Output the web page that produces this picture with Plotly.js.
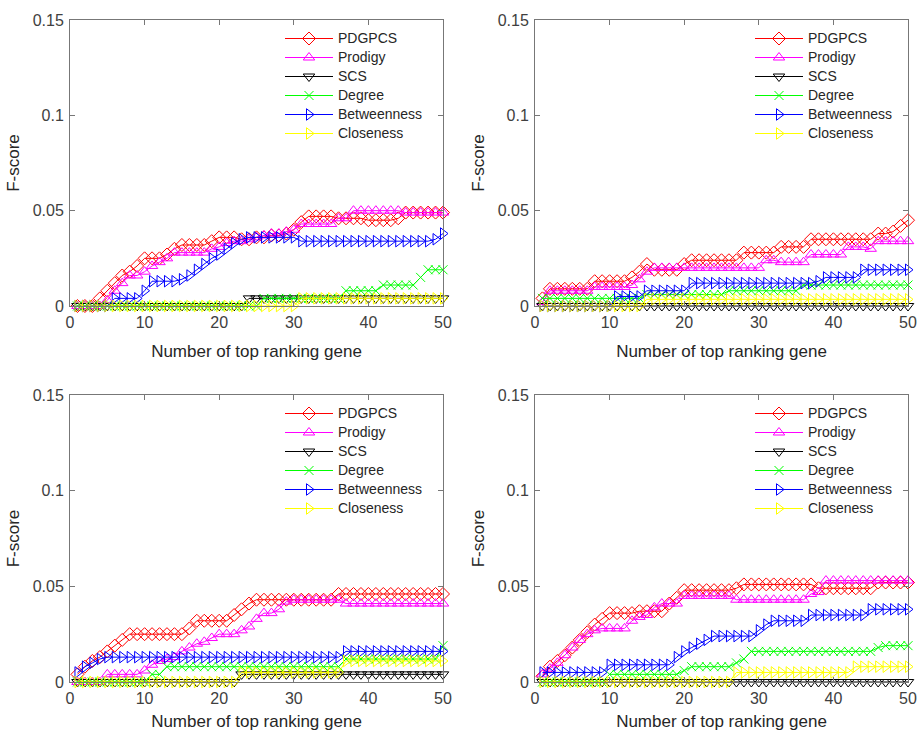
<!DOCTYPE html>
<html>
<head>
<meta charset="utf-8">
<script src="https://cdn.plot.ly/plotly-3.0.1.min.js"></script>
<style>
  html, body { margin: 0; padding: 0; background: #ffffff; }
  #chart { width: 919px; height: 731px; }
</style>
</head>
<body>
<div id="chart"></div>
<script>
// Number of top ranking genes considered (x axis)
const topN = [1,2,3,4,5,6,7,8,9,10,11,12,13,14,15,16,17,18,19,20,
              21,22,23,24,25,26,27,28,29,30,31,32,33,34,35,36,37,38,39,40,
              41,42,43,44,45,46,47,48,49,50];

const methodNames = ['PDGPCS', 'Prodigy', 'SCS', 'Degree', 'Betweenness', 'Closeness'];
const xTickVals = [0, 10, 20, 30, 40, 50];
const yTickVals = [0, 0.05, 0.1, 0.15];
const yTickText = ['0', '0.05', '0.1', '0.15'];

// ---- Panel 1 (top left) ----
const p1_PDGPCS = [0,0,0,0.004,0.008,0.012,0.016,0.018,0.021,0.025,
                   0.025,0.025,0.027,0.030,0.032,0.032,0.032,0.032,0.034,0.036,
                   0.036,0.036,0.035,0.035,0.036,0.036,0.037,0.037,0.038,0.040,
                   0.044,0.047,0.047,0.047,0.047,0.046,0.046,0.046,0.046,0.045,
                   0.045,0.045,0.045,0.046,0.049,0.049,0.049,0.049,0.049,0.049];
const p1_Prodigy = [0,0,0,0,0.003,0.008,0.012,0.016,0.016,0.018,
                    0.021,0.023,0.025,0.028,0.028,0.028,0.028,0.028,0.030,0.031,
                    0.033,0.034,0.034,0.035,0.036,0.037,0.038,0.038,0.039,0.040,
                    0.043,0.043,0.043,0.043,0.043,0.046,0.046,0.050,0.050,0.050,
                    0.050,0.050,0.050,0.050,0.049,0.049,0.049,0.049,0.049,0.049];
const p1_SCS = [0,0,0,0,0,0,0,0,0,0,
                0,0,0,0,0,0,0,0,0,0,
                0,0,0,0.004,0.004,0.004,0.004,0.004,0.004,0.004,
                0.004,0.004,0.004,0.004,0.004,0.004,0.004,0.004,0.004,0.004,
                0.004,0.004,0.004,0.004,0.004,0.004,0.004,0.004,0.004,0.004];
const p1_Degree = [0,0,0,0,0,0,0,0,0,0,
                   0,0,0,0,0,0,0,0,0,0,
                   0,0,0,0,0,0.004,0.004,0.004,0.004,0.004,
                   0.004,0.004,0.004,0.004,0.004,0.004,0.008,0.008,0.008,0.008,
                   0.008,0.011,0.011,0.011,0.011,0.011,0.015,0.019,0.019,0.019];
const p1_Betweenness = [0,0,0,0,0,0.004,0.004,0.004,0.004,0.008,
                        0.013,0.013,0.013,0.013,0.014,0.016,0.019,0.022,0.025,0.027,
                        0.030,0.033,0.035,0.036,0.036,0.036,0.036,0.036,0.036,0.036,
                        0.034,0.034,0.034,0.034,0.034,0.034,0.034,0.034,0.034,0.034,
                        0.034,0.034,0.034,0.034,0.034,0.034,0.034,0.034,0.035,0.038];
const p1_Closeness = [0,0,0,0,0,0,0,0,0,0,
                      0,0,0,0,0,0,0,0,0,0,
                      0,0,0,0,0,0,0,0,0,0,
                      0.004,0.004,0.004,0.004,0.004,0.004,0.004,0.004,0.004,0.004,
                      0.004,0.004,0.004,0.004,0.004,0.004,0.004,0.004,0.004,0.004];

// ---- Panel 2 (top right) ----
const p2_PDGPCS = [0.004,0.009,0.009,0.009,0.009,0.009,0.009,0.013,0.013,0.013,
                   0.013,0.013,0.015,0.018,0.022,0.019,0.019,0.019,0.019,0.022,
                   0.024,0.024,0.024,0.024,0.024,0.024,0.024,0.028,0.028,0.028,
                   0.028,0.028,0.031,0.031,0.031,0.031,0.035,0.035,0.035,0.035,
                   0.035,0.035,0.035,0.035,0.035,0.038,0.038,0.039,0.042,0.045];
const p2_Prodigy = [0.002,0.008,0.008,0.008,0.008,0.008,0.008,0.010,0.010,0.010,
                    0.010,0.010,0.011,0.014,0.018,0.020,0.020,0.020,0.020,0.020,
                    0.020,0.020,0.020,0.020,0.020,0.020,0.020,0.020,0.020,0.020,
                    0.024,0.024,0.023,0.023,0.023,0.023,0.027,0.027,0.027,0.027,
                    0.027,0.031,0.031,0.031,0.030,0.034,0.034,0.034,0.034,0.034];
const p2_SCS = [0,0,0,0,0,0,0,0,0,0,
                0,0,0,0,0,0,0,0,0,0,
                0,0,0,0,0,0,0,0,0,0,
                0,0,0,0,0,0,0,0,0,0,
                0,0,0,0,0,0,0,0,0,0];
const p2_Degree = [0.004,0.004,0.004,0.004,0.004,0.004,0.004,0.004,0.004,0.004,
                   0.004,0.004,0.004,0.004,0.006,0.006,0.006,0.006,0.006,0.006,
                   0.006,0.006,0.006,0.006,0.006,0.008,0.008,0.008,0.008,0.008,
                   0.008,0.008,0.008,0.008,0.008,0.011,0.011,0.011,0.011,0.011,
                   0.011,0.011,0.011,0.011,0.011,0.011,0.011,0.011,0.011,0.011];
const p2_Betweenness = [0,0,0,0,0,0,0,0,0,0,
                        0.005,0.005,0.005,0.005,0.008,0.008,0.008,0.008,0.008,0.008,
                        0.012,0.012,0.012,0.012,0.012,0.012,0.012,0.012,0.012,0.012,
                        0.012,0.012,0.012,0.012,0.012,0.012,0.012,0.013,0.015,0.015,
                        0.015,0.015,0.015,0.019,0.019,0.019,0.019,0.019,0.019,0.019];
const p2_Closeness = [0,0,0,0,0,0,0,0,0,0,
                      0,0,0,0,0.0035,0.0035,0.0035,0.0035,0.0035,0.0035,
                      0.0035,0.0035,0.0035,0.0035,0.0035,0.0035,0.0035,0.0035,0.0035,0.0035,
                      0.0035,0.0035,0.0035,0.0035,0.0035,0.0035,0.0035,0.0035,0.0035,0.0035,
                      0.0035,0.0035,0.0035,0.0035,0.0035,0.0035,0.0035,0.0035,0.0035,0.0035];

// ---- Panel 3 (bottom left) ----
const p3_PDGPCS = [0.004,0.008,0.011,0.013,0.016,0.019,0.022,0.025,0.025,0.025,
                   0.025,0.025,0.025,0.025,0.025,0.028,0.032,0.032,0.032,0.032,
                   0.032,0.035,0.038,0.041,0.043,0.043,0.043,0.043,0.043,0.043,
                   0.043,0.043,0.043,0.043,0.043,0.046,0.046,0.046,0.046,0.046,
                   0.046,0.046,0.046,0.046,0.046,0.046,0.046,0.046,0.046,0.046];
const p3_Prodigy = [0,0,0,0,0.004,0.004,0.004,0.004,0.004,0.006,
                    0.009,0.011,0.012,0.013,0.016,0.018,0.020,0.021,0.023,0.025,
                    0.025,0.025,0.027,0.029,0.033,0.036,0.036,0.038,0.042,0.043,
                    0.043,0.043,0.043,0.043,0.043,0.043,0.041,0.041,0.041,0.041,
                    0.041,0.041,0.041,0.041,0.041,0.041,0.041,0.041,0.041,0.041];
const p3_SCS = [0,0,0,0,0,0,0,0,0,0,
                0,0,0,0,0,0,0,0,0,0,
                0,0,0.004,0.004,0.004,0.004,0.004,0.004,0.004,0.004,
                0.004,0.004,0.004,0.004,0.004,0.004,0.004,0.004,0.004,0.004,
                0.004,0.004,0.004,0.004,0.004,0.004,0.004,0.004,0.004,0.004];
const p3_Degree = [0,0,0,0,0,0,0,0,0,0,
                   0.004,0.004,0.008,0.008,0.008,0.008,0.008,0.008,0.008,0.008,
                   0.008,0.008,0.008,0.008,0.008,0.008,0.008,0.008,0.008,0.008,
                   0.008,0.008,0.008,0.008,0.008,0.008,0.012,0.012,0.012,0.012,
                   0.012,0.012,0.012,0.012,0.012,0.012,0.012,0.012,0.012,0.019];
const p3_Betweenness = [0.005,0.008,0.010,0.012,0.013,0.013,0.013,0.013,0.013,0.013,
                        0.013,0.013,0.013,0.013,0.013,0.013,0.013,0.013,0.013,0.013,
                        0.013,0.013,0.013,0.013,0.013,0.013,0.013,0.013,0.013,0.013,
                        0.013,0.013,0.013,0.013,0.013,0.013,0.016,0.016,0.016,0.016,
                        0.016,0.016,0.016,0.016,0.016,0.016,0.016,0.016,0.016,0.016];
const p3_Closeness = [0,0,0,0,0,0,0,0,0,0,
                      0,0,0,0,0,0,0,0,0,0,
                      0,0,0.005,0.005,0.005,0.005,0.005,0.005,0.005,0.005,
                      0.005,0.005,0.005,0.005,0.005,0.005,0.011,0.011,0.011,0.011,
                      0.011,0.011,0.011,0.011,0.011,0.011,0.011,0.011,0.011,0.011];

// ---- Panel 4 (bottom right) ----
const p4_PDGPCS = [0.003,0.008,0.011,0.014,0.018,0.022,0.026,0.030,0.033,0.036,
                   0.036,0.036,0.036,0.037,0.037,0.037,0.037,0.041,0.044,0.048,
                   0.048,0.048,0.048,0.048,0.048,0.048,0.049,0.051,0.051,0.051,
                   0.051,0.051,0.051,0.051,0.051,0.051,0.051,0.049,0.049,0.049,
                   0.049,0.049,0.049,0.049,0.049,0.052,0.052,0.052,0.052,0.052];
const p4_Prodigy = [0.004,0.007,0.010,0.014,0.018,0.022,0.025,0.027,0.028,0.028,
                    0.028,0.028,0.032,0.034,0.035,0.039,0.041,0.041,0.041,0.045,
                    0.045,0.045,0.045,0.045,0.045,0.045,0.043,0.043,0.043,0.043,
                    0.043,0.043,0.043,0.043,0.043,0.043,0.046,0.047,0.053,0.053,
                    0.053,0.053,0.053,0.053,0.053,0.053,0.053,0.053,0.053,0.053];
const p4_SCS = [0,0,0,0,0,0,0,0,0,0,
                0,0,0,0,0,0,0,0,0,0,
                0,0,0,0,0,0,0,0,0,0,
                0,0,0,0,0,0,0,0,0,0,
                0,0,0,0,0,0,0,0,0,0];
const p4_Degree = [0,0,0,0,0,0,0,0,0,0.004,
                   0.004,0.004,0.004,0.004,0.004,0.004,0.004,0.004,0.004,0.006,
                   0.008,0.008,0.008,0.008,0.008,0.008,0.010,0.012,0.016,0.016,
                   0.016,0.016,0.016,0.016,0.016,0.016,0.016,0.016,0.016,0.016,
                   0.016,0.016,0.016,0.016,0.016,0.018,0.019,0.019,0.019,0.019];
const p4_Betweenness = [0.005,0.005,0.005,0.005,0.005,0.005,0.005,0.005,0.005,0.009,
                        0.009,0.009,0.009,0.009,0.009,0.009,0.009,0.009,0.013,0.016,
                        0.018,0.020,0.022,0.024,0.024,0.024,0.024,0.024,0.024,0.027,
                        0.030,0.032,0.032,0.032,0.032,0.032,0.035,0.035,0.035,0.035,
                        0.035,0.035,0.035,0.035,0.038,0.038,0.038,0.038,0.038,0.038];
const p4_Closeness = [0,0,0,0,0,0,0,0,0,0,
                      0,0,0,0,0,0,0,0,0,0,
                      0,0,0,0,0,0,0.005,0.005,0.005,0.005,
                      0.005,0.005,0.005,0.005,0.005,0.005,0.005,0.005,0.005,0.005,
                      0.005,0.005,0.008,0.008,0.008,0.008,0.008,0.008,0.008,0.008];

const panels = [
  [p1_PDGPCS, p1_Prodigy, p1_SCS, p1_Degree, p1_Betweenness, p1_Closeness],
  [p2_PDGPCS, p2_Prodigy, p2_SCS, p2_Degree, p2_Betweenness, p2_Closeness],
  [p3_PDGPCS, p3_Prodigy, p3_SCS, p3_Degree, p3_Betweenness, p3_Closeness],
  [p4_PDGPCS, p4_Prodigy, p4_SCS, p4_Degree, p4_Betweenness, p4_Closeness]
];

// Line/marker style for each method
const styles = [
  {color: '#ff0000', symbol: 'diamond-open', size: 10},
  {color: '#ff00ff', symbol: 'triangle-up-open', size: 10},
  {color: '#000000', symbol: 'triangle-down-open', size: 10},
  {color: '#00ff00', symbol: 'x-thin-open', size: 9},
  {color: '#0000ff', symbol: 'triangle-right-open', size: 10},
  {color: '#ffff00', symbol: 'triangle-right-open', size: 10}
];

const W = 919, H = 731;
// plot areas in pixels: [left, right, top, bottom]
const boxes = [
  [70, 443, 20, 306],
  [535, 908, 20, 306],
  [70, 443, 395, 682],
  [535, 908, 395, 682]
];
// left edge of each legend relative to its plot area
const legendOffsets = [210, 215, 210, 215];

const font = 'Liberation Sans, Arial, sans-serif';
const traces = [];
const layout = {
  width: W, height: H,
  margin: {l: 0, r: 0, t: 0, b: 0},
  paper_bgcolor: '#ffffff',
  plot_bgcolor: '#ffffff',
  font: {family: font, color: '#333333', size: 15},
  showlegend: true
};

panels.forEach((series, p) => {
  const n = p + 1;
  const xa = n === 1 ? 'x' : 'x' + n;
  const ya = n === 1 ? 'y' : 'y' + n;
  const lg = n === 1 ? 'legend' : 'legend' + n;
  const [l, r, t, b] = boxes[p];

  series.forEach((vals, k) => {
    const s = styles[k];
    traces.push({
      type: 'scatter',
      mode: 'lines+markers',
      name: '<span style="font-size:14px">' + methodNames[k] + '</span>',
      x: topN,
      y: vals,
      xaxis: xa,
      yaxis: ya,
      legend: lg,
      cliponaxis: false,
      line: {color: s.color, width: 1},
      marker: {symbol: s.symbol, size: s.size, color: s.color,
               line: {color: s.color, width: 1}}
    });
  });

  const axisCommon = {
    showline: true, linecolor: '#777777', linewidth: 1,
    mirror: 'ticks', ticks: 'inside', ticklen: 5, tickcolor: '#777777',
    showgrid: false, zeroline: false,
    ticklabelstandoff: 2,
    tickfont: {family: font, size: 16, color: '#404040'}
  };

  layout['xaxis' + (n === 1 ? '' : n)] = Object.assign({}, axisCommon, {
    anchor: ya,
    domain: [l / W, r / W],
    range: [0, 50],
    tickvals: xTickVals,
    title: {text: 'Number of top ranking gene', standoff: 14,
            font: {family: font, size: 17, color: '#262626'}}
  });
  layout['yaxis' + (n === 1 ? '' : n)] = Object.assign({}, axisCommon, {
    anchor: xa,
    domain: [1 - b / H, 1 - t / H],
    range: [0, 0.15],
    tickvals: yTickVals,
    ticktext: yTickText,
    title: {text: 'F-score', standoff: 8,
            font: {family: font, size: 17, color: '#262626'}}
  });

  layout[lg] = {
    x: (l + legendOffsets[p]) / W,
    y: 1 - (t + 4) / H,
    xanchor: 'left', yanchor: 'top',
    bgcolor: 'rgba(255,255,255,0)',
    borderwidth: 0,
    itemwidth: 48,
    tracegroupgap: 0,
    font: {family: font, size: 12, color: '#262626'}
  };
});

Plotly.newPlot('chart', traces, layout, {displayModeBar: false, staticPlot: true});
</script>
</body>
</html>
